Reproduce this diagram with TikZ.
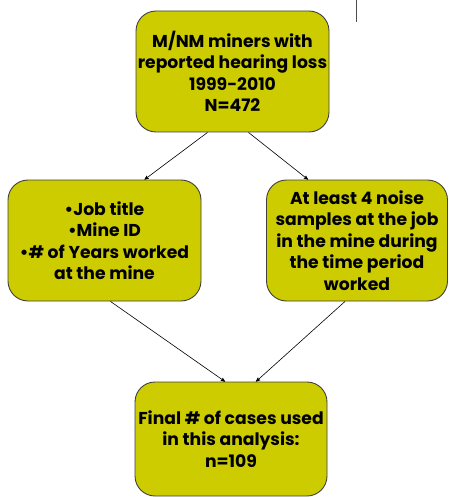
\documentclass[tikz,border=0pt]{standalone}
\usepackage{fontspec}
\setsansfont{Poppins}
\usetikzlibrary{shapes}
\usetikzlibrary{arrows}
\definecolor{boxfill}{RGB}{204,204,0}
\tikzset{
	treenode/.style = {align=center, inner sep=0pt, text centered,
		font=\sffamily\bfseries\fontsize{17.2}{21.5}\selectfont},
	flow_b/.style = {treenode, rectangle, rounded corners=20pt, draw=black!75,
		fill=boxfill, line width=0.9pt},% boite jaune
	flow_l/.style = {black, line width=0.6pt}% fleche
}
\begin{document}
\begin{tikzpicture}[x=1pt,y=-1pt,->,>=stealth']
	\useasboundingbox (0,0) rectangle (448,497);
	\draw[-, black!70, line width=0.8pt] (356,0) -- (356,22);
	\node [flow_b, minimum width=193pt, minimum height=121pt] (src) at (232.5,71.5)
		{M/NM miners with\\reported hearing loss\\1999-2010\\N=472};
	\node [flow_b, minimum width=193pt, minimum height=121pt] (vars) at (104.5,240.5)
		{•Job title\\•Mine ID\\•\# of Years worked\\at the mine};
	\node [flow_b, minimum width=181pt, minimum height=121pt] (noise) at (357,240.5)
		{At least 4 noise\\samples at the job\\in the mine during\\the time period\\worked};
	\node [flow_b, minimum width=192pt, minimum height=114pt] (final) at (231,439)
		{Final \# of cases used\\in this analysis:\\n=109};
	\draw [flow_l] ([xshift=-25pt]src.south) -- ([xshift=40pt]vars.north);
	\draw [flow_l] ([xshift=16pt]src.south) -- ([xshift=-49pt]noise.north);
	\draw [flow_l] ([xshift=6pt]vars.south) -- ([xshift=-6pt]final.north);
	\draw [flow_l] ([xshift=-12pt]noise.south) -- ([xshift=25pt]final.north);
\end{tikzpicture}
\end{document}
